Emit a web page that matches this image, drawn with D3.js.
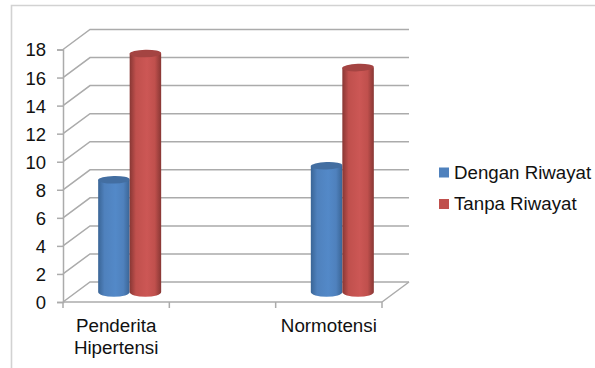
<!DOCTYPE html>
<html>
<head>
<meta charset="utf-8">
<script src="https://cdn.jsdelivr.net/npm/d3@7/dist/d3.min.js"></script>
<style>
html,body{margin:0;padding:0;background:#fff}
svg{display:block}
text{font-family:"Liberation Sans",Arial,sans-serif;fill:#111}
</style>
</head>
<body>
<svg id="chart" width="595" height="368"></svg>
<script>
// The middle slot on the category axis is left empty in the source workbook.
const categories = ["Penderita Hipertensi", "", "Normotensi"];
const seriesNames = ["Dengan Riwayat", "Tanpa Riwayat"];
const denganRiwayat = [8, null, 9];
const tanpaRiwayat = [17, null, 16];
const yTicks = [0, 2, 4, 6, 8, 10, 12, 14, 16, 18];
const seriesColors = ["#4f81bd", "#c0504d"];

const width = 595, height = 368;
const plot = {left: 63, right: 382, top: 49.5, bottom: 302};
const depth = {dx: 27, dy: -20};
const gridColor = "#ababab";
const svg = d3.select("#chart");

const x = d3.scaleBand().domain(d3.range(categories.length)).range([plot.left, plot.right]);
const y = d3.scaleLinear().domain([0, 18]).range([plot.bottom, plot.top]);

// Outer frame of the chart object
svg.append("path")
  .attr("d", `M${11.5},${height}V5.5H${width}`)
  .attr("fill", "none").attr("stroke", "#d2d2d2").attr("stroke-width", 1.6);

// Cylinder shading, dark at the rims and brightest just right of centre
const defs = svg.append("defs");
const shades = [
  {edge: "#3a6596", mid: "#4f81bd", hi: "#5389c8"},
  {edge: "#883734", mid: "#c0504d", hi: "#cc5755"}
];
shades.forEach((s, i) => {
  const g = defs.append("linearGradient").attr("id", `cyl${i}`);
  [[0, s.edge], [0.2, s.mid], [0.55, s.hi], [0.8, s.mid], [1, s.edge]].forEach(([o, c]) =>
    g.append("stop").attr("offset", o).attr("stop-color", c));
});

// Back wall gridlines and their diagonals on the side wall
const grid = svg.append("g").attr("fill", "none").attr("stroke", gridColor).attr("stroke-width", 1.5);
yTicks.forEach(t => {
  grid.append("path").attr("d", d3.line()([
    [plot.left, y(t)],
    [plot.left + depth.dx, y(t) + depth.dy],
    [plot.right + depth.dx, y(t) + depth.dy]
  ]));
});
// Right edge of the floor
grid.append("path").attr("d", d3.line()([
  [plot.right, y(0)],
  [plot.right + depth.dx, y(0) + depth.dy]
]));

// Axes
const yAxis = svg.append("g").attr("transform", `translate(${plot.left},0)`)
  .call(d3.axisLeft(y).tickValues(yTicks).tickSize(6).tickPadding(11).tickFormat(d3.format("d")));
yAxis.selectAll("text").attr("font-size", 18.5).attr("dy", "0.35em");

const tickEdges = d3.range(categories.length + 1).map(i =>
  i < categories.length ? x(i) : plot.right);
const xAxis = svg.append("g").attr("transform", `translate(0,${plot.bottom})`);
xAxis.append("path").attr("d", `M${plot.left},0H${plot.right}`);
xAxis.selectAll("line").data(tickEdges).join("line")
  .attr("x1", d => d).attr("x2", d => d).attr("y1", 0).attr("y2", 6);
svg.selectAll("g path, g line").filter(function () {
  return this.parentNode !== grid.node() && !this.closest("#bars");
}).attr("stroke", gridColor).attr("stroke-width", 1.5).attr("fill", "none");

// Category labels, wrapped on spaces
categories.forEach((c, i) => {
  const words = c ? c.split(" ") : [];
  const label = svg.append("text").attr("text-anchor", "middle").attr("font-size", 18.8);
  words.forEach((w, k) => label.append("tspan")
    .attr("x", x(i) + x.bandwidth() / 2)
    .attr("y", 332 + k * 21.5)
    .text(w));
});

// Cylinders sit on the middle plane of the floor depth
const bars = svg.append("g").attr("id", "bars");
const midX = depth.dx / 2, midY = depth.dy / 2;
const barW = 31.5, rx = barW / 2, ryBase = 4.8, ryTop = 3.8;
const tilt = [-1.2, -2.2];

[denganRiwayat, tanpaRiwayat].forEach((values, s) => {
  values.forEach((v, i) => {
    if (v === null) return;
    const cx = x(i) + x.bandwidth() / 2 + midX + (s === 0 ? -rx : rx);
    const yb = y(0) + midY;
    const yt = y(v) + midY;
    const rot = tilt[i === 0 ? 0 : 1];
    bars.append("path")
      .attr("d", `M${cx - rx},${yt}L${cx - rx},${yb}A${rx},${ryBase} 0 0 0 ${cx + rx},${yb}L${cx + rx},${yt}Z`)
      .attr("fill", `url(#cyl${s})`);
    bars.append("ellipse")
      .attr("cx", cx).attr("cy", yt).attr("rx", rx).attr("ry", ryTop)
      .attr("transform", `rotate(${rot} ${cx} ${yt})`)
      .attr("fill", d3.color(seriesColors[s]).darker(0.45));
  });
});

// Legend
const legend = svg.append("g");
seriesNames.forEach((name, i) => {
  const ly = 172.5 + i * 31.5;
  legend.append("rect").attr("x", 439).attr("y", ly - 5).attr("width", 10).attr("height", 10)
    .attr("fill", seriesColors[i]);
  legend.append("text").attr("x", 454).attr("y", ly + 6).attr("font-size", 18.7).text(name);
});
</script>
</body>
</html>
